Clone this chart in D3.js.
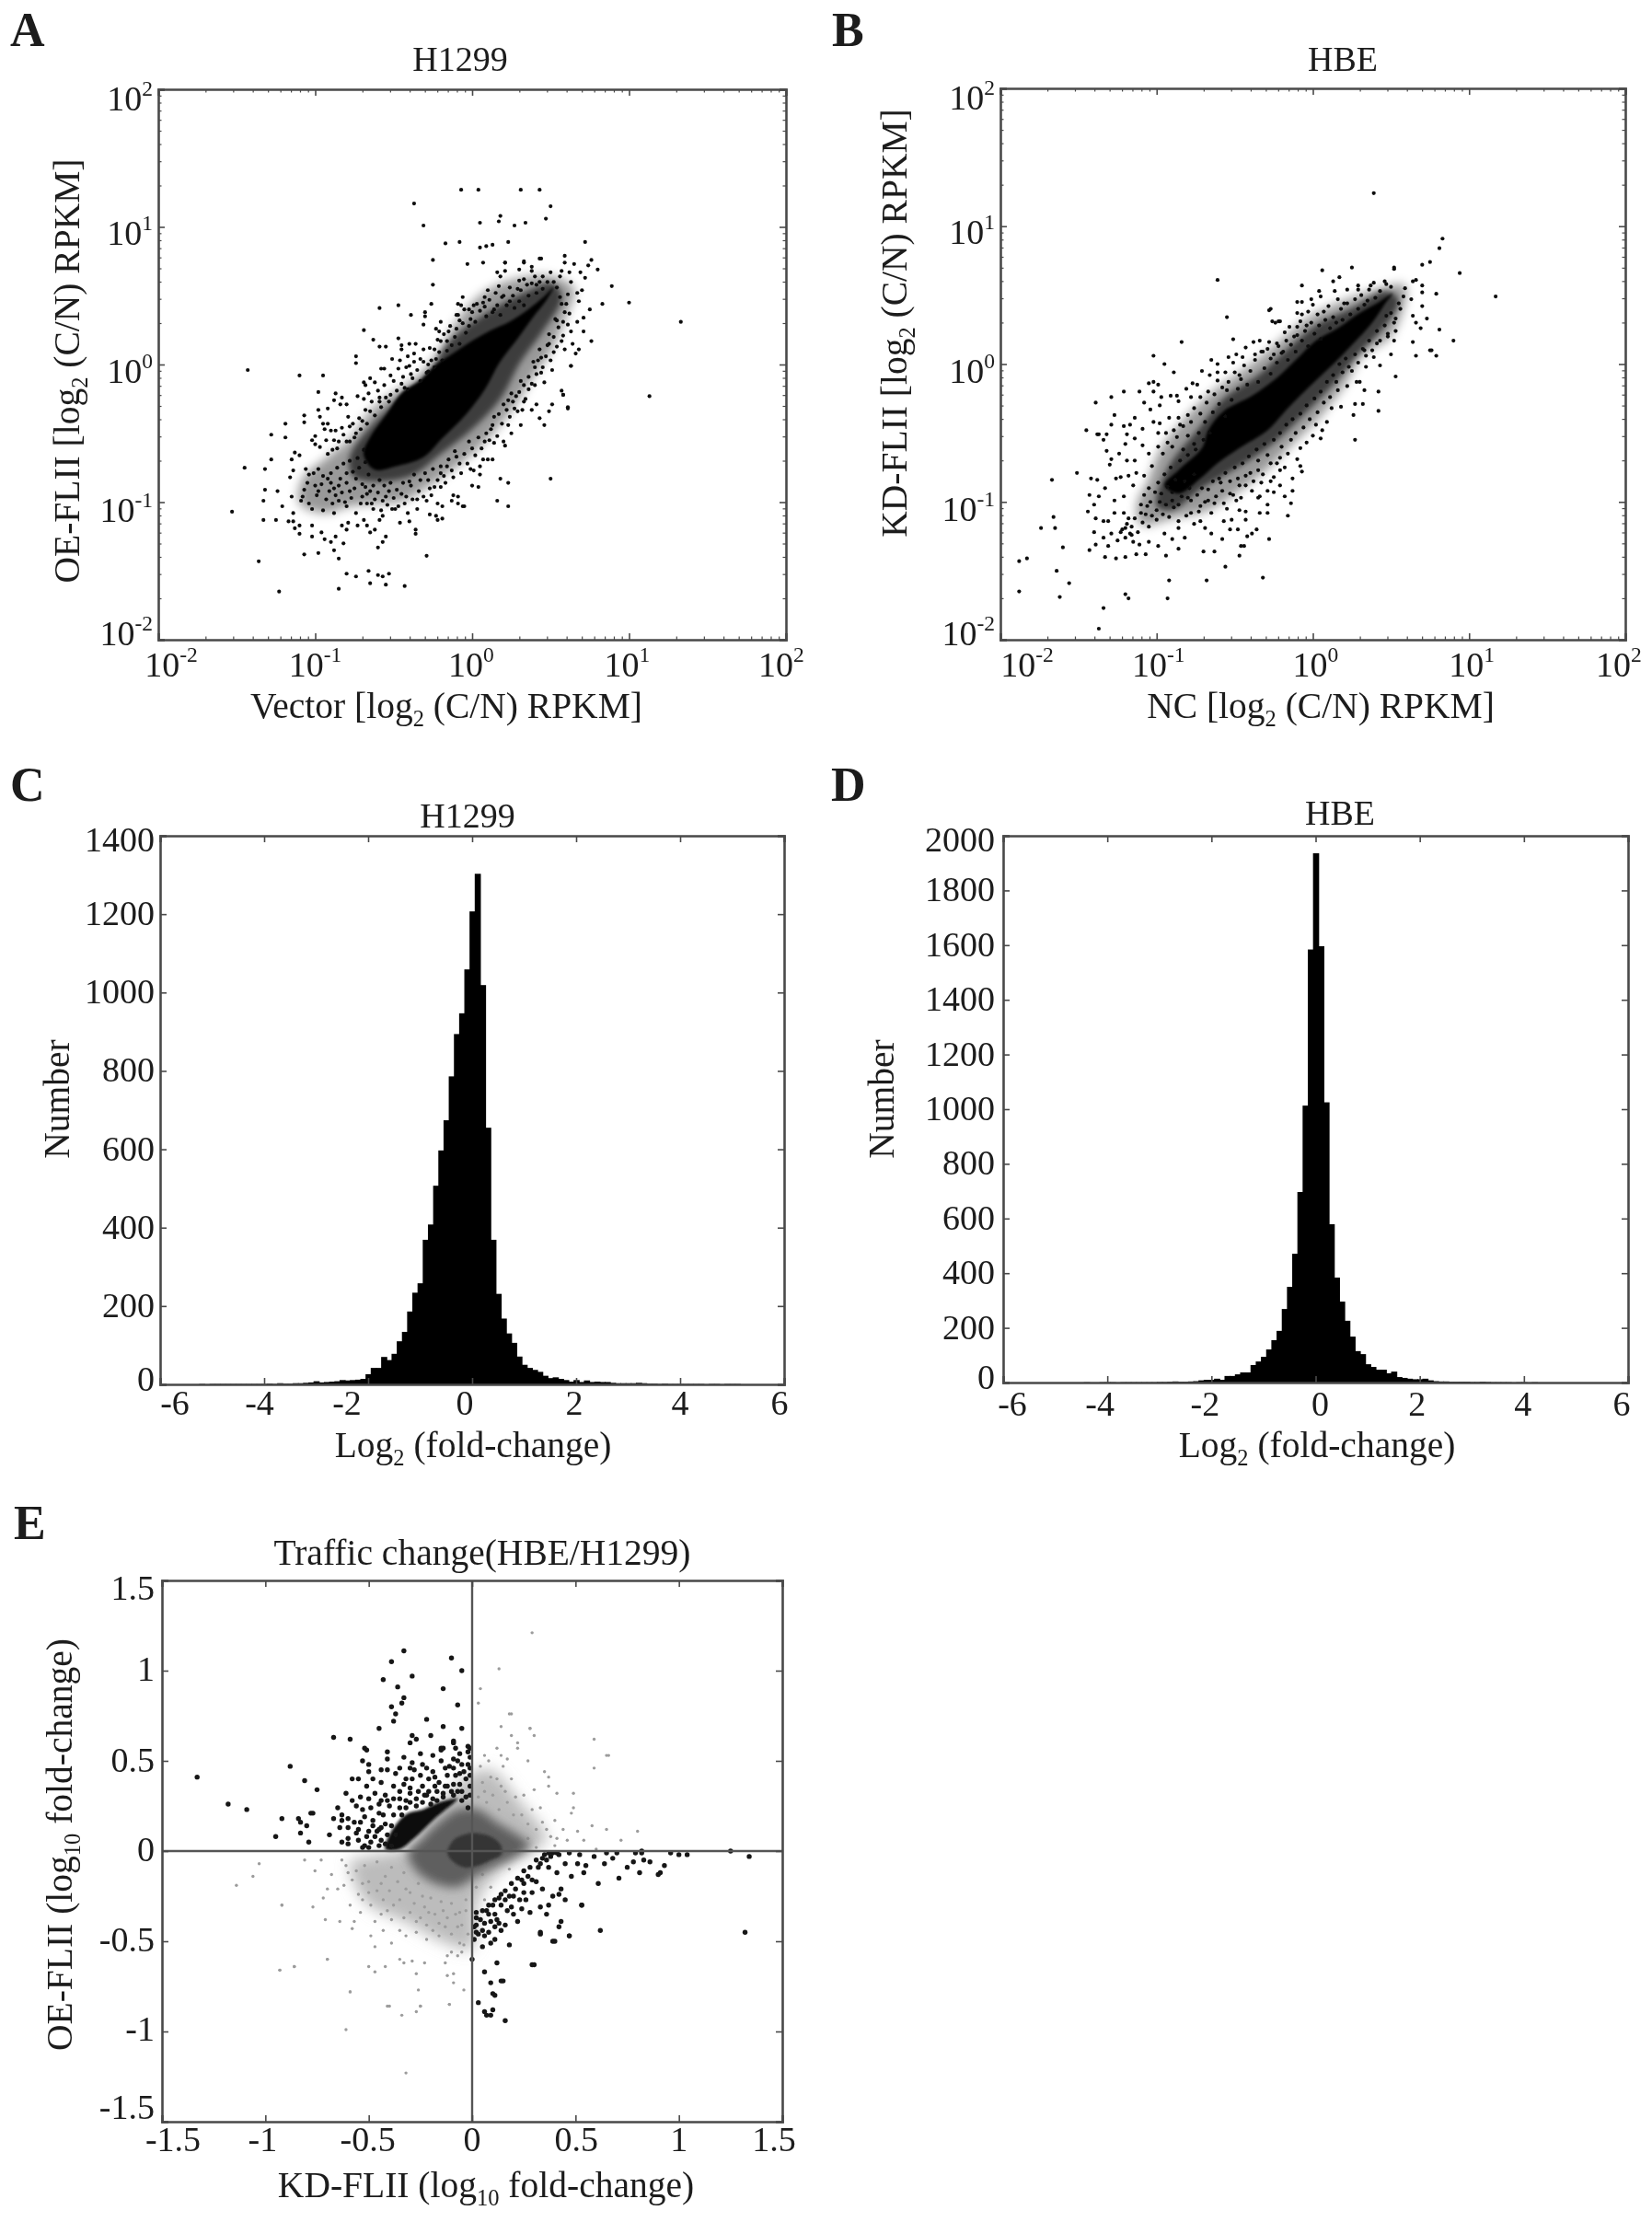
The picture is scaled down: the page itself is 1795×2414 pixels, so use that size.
<!DOCTYPE html>
<html>
<head>
<meta charset="utf-8">
<script src="https://cdn.jsdelivr.net/npm/d3@7"></script>
<style>
body { margin: 0; background: #fff; }
text { font-family: "Liberation Serif", serif; fill: #1c1c1c; white-space: pre; }
</style>
</head>
<body>
<div id="chart"></div>
<script>
// values. scatter A and B are log10 of the plotted value
const decades = [-2, -1, 0, 1, 2];
const histTicksX = [-6, -4, -2, 0, 2, 4, 6];
const histTicksC = [0, 200, 400, 600, 800, 1000, 1200, 1400];
const histTicksD = [0, 200, 400, 600, 800, 1000, 1200, 1400, 1600, 1800, 2000];
const trafficTicks = [-1.5, -1, -0.5, 0, 0.5, 1, 1.5];

// outlines of the areas too dense to read single points from
const aCore = [[.52,.564],[.451,.486],[.353,.397],[.236,.31],[.12,.25],[.002,.174],[-.116,.085],[-.233,-.004],[-.331,-.116],[-.448,-.205],[-.546,-.361],[-.644,-.517],[-.692,-.651],[-.624,-.763],[-.487,-.74],[-.311,-.674],[-.194,-.54],[-.038,-.361],[.08,-.183],[.177,.018],[.295,.196],[.393,.352],[.471,.464]];
const aBody = [[-.78,-.67],[-.63,-.43],[-.45,-.23],[-.27,-.05],[-.16,.15],[.06,.35],[.31,.51],[.51,.59],[.57,.49],[.45,.24],[.31,.02],[.18,-.25],[0,-.47],[-.2,-.65],[-.39,-.81],[-.63,-.85],[-.76,-.81]];
const aHalo = [[-1.1,-1.01],[-1.08,-.83],[-.92,-.67],[-.78,-.54],[-.65,-.34],[-.51,-.21],[-.35,-.09],[-.22,.08],[-.1,.31],[.06,.51],[.27,.62],[.51,.64],[.65,.55],[.59,.33],[.51,.11],[.39,-.09],[.29,-.27],[.2,-.41],[.04,-.61],[-.12,-.76],[-.27,-.88],[-.43,-.99],[-.59,-1.01],[-.78,-1.03],[-.94,-1.08]];
const aPoints = [[-.07,1.27],[.04,1.27],[.31,1.27],[.43,1.27],[.5,1.15],[-.37,1.17],[-.31,1.01],[.18,1.08],[.17,1.04],[.05,1.03],[.27,1.01],[.34,1.03],[.47,1.06],[-.08,.89],[-.17,.88],[.05,.85],[.09,.86],[.13,.87],[.23,.89],[.72,.89],[-.25,.76],[-.03,.73],[.21,.74],[.33,.74],[.43,.77],[.59,.79],[.76,.76],[.8,.69],[-.25,.58],[.89,.57],[1,.45],[.83,.44],[1.33,.31],[1.13,-.23],[-.59,.41],[-.47,.43],[-.69,.25],[-.63,.18],[-1.43,-.04],[-1.1,-.08],[-.95,-.08],[-.98,-.2],[.5,-.83],[.16,-.99],[.23,-1.03],[-.06,-1.03],[.18,-.83],[.23,-.86],[-1.53,-1.07],[-1.45,-.75],[-1.28,-.51],[-1.19,-.43],[-1.36,-1.43],[-1.23,-1.65],[-.85,-1.63],[-.8,-1.52],[-.74,-1.54],[-.66,-1.5],[-.65,-1.59],[-.6,-1.53],[-.57,-1.54],[-.53,-1.52],[-.55,-1.6],[-.43,-1.61],[-.29,-1.39],[-1.07,-1.38],[-.98,-1.37],[-.85,-1.41],[.61,-.31],[.58,-.22],[.63,-.01],[.76,.17],
[-1.19,-.53],[-1.07,-.37],[-1.07,-.42],[-.98,-.33],[-.92,-.32],[-.97,-.38],[-.95,-.43],[-.92,-.43],[-.94,-.47],[-.9,-.48],[-.87,-.48],[-.83,-.46],[-.79,-.38],[-.78,-.45],[-.87,-.21],[-.88,-.26],[-.83,-.24],[-.84,-.29],[-.8,-.29],[-.74,.06],[-.74,.01],[-.59,.13],[-.55,.13],[-.39,.36],[-.3,.38],[-.3,.35],[-.31,.29],[-.26,.44],[-.2,.31],[-.47,.19],[-.45,.14],[-.4,.15],[-.36,.15],[-.45,.11],[-.41,.06],[-.51,.04],[-.46,.03],[-.37,.02],[-.58,-.03],[-.56,-.03],[-.69,-.13],[-.68,-.15],[-.65,-.1],[-.62,-.13],[-.52,-.08],[-.73,-.23],[-.69,-.25],[-.59,-.24],[-.52,-.22],[-.66,-.21],
[-1.02,-.55],[-1,-.58],[-1.13,-.64],[-1.1,-.66],[-1.15,-.69],[-1.28,-.69],[-1.32,-.76],[-1.14,-.77],[-1.16,-.82],[-1.32,-.91],[-1.24,-.92],[-1.33,-.99],[-1.21,-1.03],[-1.15,-.96],[-1.33,-1.13],[-1.25,-1.13],[-1.17,-1.14],[-1.14,-1.08],[-1.14,-1.14],[-1.13,-1.19],[-1.1,-1.17],[-1.1,-1.23],[-1.02,-1.25],[-1.02,-1.17],[-.96,-1.22],[-.94,-1.27],[-.9,-1.29],[-.87,-1.25],[-.82,-1.3],[-.88,-1.35],[-.83,-1.17],[-.8,-1.2],[-.79,-1.15],[-.73,-1.17],[-.69,-1.13],[-.67,-1.17],[-.62,-1.2],[-.65,-1.22],[-.55,-1.25],[-.57,-1.29],[-.6,-1.33],[-.59,-1.13],[-.46,-1.15],[-.4,-1.14],[-.36,-1.2],[-.36,-1.23],[-.27,-1.09],[-.22,-1.13],[-.19,-1.12],[-.23,-1.1],
[-.13,-.99],[-.09,-1.01],[-.05,-1.03],[-.12,-.95],[-.09,-.96],[-.19,-1.03],[-.22,-1.01],[-.29,-.99],[-.35,-.98],[-.24,-.89],[-.2,-.89],[-.17,-.86],[-.12,-.82],[-.07,-.79],[0,-.88],[.04,-.89],[.05,-.8],[.05,-.74],[-.01,-.76],[.01,-.77],[.07,-.69],[.1,-.69],[.13,-.69],[.14,-.57],[.2,-.56],[.21,-.59],
[.31,-.44],[.25,-.5],[.23,-.44],[.46,-.44],[.43,-.39],[.49,-.34],[.51,-.29],[.61,-.32],[.38,-.33],[.32,-.33],[.29,-.34],[.41,-.29],[.34,-.25],[.28,-.23],[.23,-.26],[.57,-.19],[.58,-.22],[.46,-.13],[.4,-.15],[.36,-.18],[.31,-.12],[.41,-.07],[.51,-.04],[.63,-.01],[.45,-.02],[.44,.05],[.52,.09],[.59,.11],[.66,.08],[.68,.11],[.64,.15],[.71,.24],[.67,.31],[.71,.34],[.75,.4],[.68,.46],[.7,.54],[.67,.52],[.63,.6],[.72,.63],[.74,.72],[.65,.73],[.59,.74],[.57,.68],[.56,.64],[.62,.67],[.69,.67],[.61,.29],[.59,.38],[.57,.44],[.54,.32],[.57,.17],[.49,.22],[.61,.51],[.56,.49],
[.21,.74],[.07,.74],[.16,.67],[.21,.68],[.18,.64],[.3,.69],[.33,.75],[.38,.71],[.44,.77],[.38,.68],[.3,.61],[.33,.62],[.4,.64],[.45,.64],[.17,.57],[.1,.54],[.29,.55],[.35,.58],[.41,.58],[-.06,.49],[-.09,.44],[-.07,.43],[-.02,.4],[.08,.49],[.07,.45],[.19,.49],[.24,.46],[-.09,.36],[.01,.43],[.14,.4],[-.23,.26],[-.21,.24],[-.16,.17],[-.08,.32],[-.1,.26],[-.01,.33],[-.24,.11],[-.31,.11],[-.2,.17],[-.33,.04],[-.42,-.02],[-.39,-.07],[-.28,0],[-.23,.04],[-.15,.24],[-.45,-.14],[-.41,-.18],[-.28,-.05],
[-1.08,-.96],[-1.04,-1.01],[-1.02,-1.05],[-.98,-.92],[-.92,-.83],[-.88,-.9],[-.85,-.99],[-.78,-.92],[-.7,-.96],[-.65,-.92],[-.57,-.99],[-.49,-1.05],[-.43,-1.01],[-.41,-1.08],[-.35,-1.05],[-.27,-.9],[-.3,-.79],[-.2,-.79],[-.16,-.74],[-.1,-.67],[0,-.61],[.08,-.56],[.12,-.47],[.14,-.38],[.2,-.29],[.25,-.21],[.39,.02],[.43,.11],[.49,.15],[.53,.33],[-.92,-.65],[-.86,-.61],[-.78,-.56],[-.74,-.5],[-.7,-.41],[-.65,-.34],[-.59,-.27],[-.98,-.76],[-.95,-.81],[-1.06,-.76],[-1.04,-.8],[-1.07,-.91],[-1.09,-.99],[-1,-.88],[-.91,-.92],[-.89,-1.01],[-.95,-1.06],[-.88,-1.08],[-.8,-1.03],[-.74,-1.08],[-.67,-1.01],[-.63,-1.05],[-.57,-1.1],[-.51,-1.05],[-.84,-.83],[-.8,-.79],[-.74,-.83],[-.68,-.89],[-.53,-.92],[-.45,-.94],[-.39,-.88],
[-1.05,-.86],[-1.01,-.79],[-.99,-.95],[-.96,-.87],[-.93,-.98],[-.9,-.79],[-.9,-.86],[-.87,-.95],[-.86,-.75],[-.85,-.88],[-.83,-.93],[-.82,-.72],[-.81,-1],[-.8,-.86],[-.78,-.7],[-.77,-.97],[-.76,-.78],[-.75,-.9],[-.73,-.68],[-.72,-.75],[-.71,-1.01],[-.7,-.87],[-.69,-.62],[-.68,-.71],[-.67,-.94],[-.66,-.8],[-.64,-1.01],[-.63,-.88],[-.62,-.98],[-.6,-.93],[-.59,-.84],[-.58,-1.06],[-.56,-.88],[-.55,-.96],[-.54,-1.02],[-.52,-.86],[-.5,-.97],[-.48,-.91],[-.47,-1.03],[-.44,-.86],[-.42,-.96],[-.4,-.85],[-.38,-.98],[-.37,-.8],[-.34,-.92],[-.33,-.84],[-.31,-.96],[-.28,-.84],[-.26,-.95],[-.25,-.76],[-.22,-.84],[-.2,-.74],[-.18,-.81],[-.15,-.69],[-.13,-.77],[-.11,-.63],[-.08,-.72],[-.05,-.65],[-.03,-.72],[-.02,-.56],[.02,-.66],[.04,-.53],[.06,-.61],[.09,-.5],[.11,-.55],[.13,-.44],[.16,-.52],[.17,-.36],[.19,-.43],[.22,-.33],[.24,-.38],[.26,-.27],[.27,-.32],[.3,-.2],[.33,-.27],[.33,-.15],[.36,-.09],[.38,-.14],[.4,-.02],[.42,.03],[.44,-.06],[.47,.06],[.48,.14],[.5,.03],[.52,.2],[.54,.13],[.55,.27],[.58,.21],[.58,.31],[.6,.44],[.62,.37],[.63,.24],
[-1,-.52],[-.97,-.6],[-.93,-.55],[-.89,-.62],[-.88,-.55],[-.85,-.56],[-.82,-.51],[-.8,-.56],[-.76,-.43],[-.75,-.53],[-.72,-.39],[-.71,-.47],[-.68,-.33],[-.67,-.43],[-.64,-.27],[-.62,-.37],[-.6,-.19],[-.58,-.31],[-.56,-.15],[-.55,-.24],[-.53,-.27],[-.5,-.12],[-.48,-.19],[-.47,-.03],[-.44,-.09],[-.43,-.17],[-.4,-.01],[-.38,-.1],[-.37,.08],[-.35,-.04],[-.33,-.12],[-.31,.02],[-.29,-.06],[-.27,.12],[-.26,.03],[-.24,-.02],[-.22,.18],[-.21,.09],[-.19,.03],[-.18,.22],[-.16,.1],[-.14,.28],[-.13,.14],[-.11,.2],[-.1,.36],[-.08,.15],[-.06,.3],[-.05,.4],[-.04,.23],[-.02,.28],[0,.38],[.02,.31],[.03,.44],[.05,.39],[.08,.42],[.09,.35],[.11,.47],[.13,.38],[.15,.52],[.16,.43],[.18,.36],[.2,.5],[.22,.43],[.24,.56],[.26,.5],[.27,.41],[.3,.46],[.31,.54],[.33,.43],[.36,.5],[.38,.59],[.41,.52],[.43,.6],[.45,.55],[.48,.6],[.5,.67],[.52,.6],[.54,.56]];

const bCore = [[.51,.51],[.41,.44],[.3,.37],[.16,.26],[.02,.17],[-.1,.04],[-.23,-.1],[-.39,-.23],[-.57,-.34],[-.67,-.48],[-.71,-.61],[-.86,-.77],[-.95,-.88],[-.86,-.94],[-.72,-.83],[-.61,-.72],[-.47,-.61],[-.29,-.48],[-.16,-.32],[0,-.14],[.14,.01],[.26,.15],[.38,.3],[.47,.45]];
const bBody = [[-1,-1.03],[-.92,-.74],[-.74,-.48],[-.57,-.25],[-.35,-.08],[-.17,.1],[.02,.28],[.26,.41],[.47,.53],[.55,.46],[.45,.26],[.3,.08],[.12,-.16],[-.08,-.39],[-.27,-.59],[-.51,-.77],[-.71,-.9],[-.9,-1.06]];
const bHalo = [[-1.12,-1.14],[-1.12,-.99],[-1.06,-.86],[-.98,-.63],[-.8,-.37],[-.63,-.19],[-.43,-.03],[-.23,.15],[-.04,.33],[.2,.46],[.43,.55],[.59,.57],[.57,.37],[.49,.19],[.32,.06],[.2,-.16],[.04,-.39],[-.12,-.57],[-.27,-.74],[-.47,-.92],[-.67,-1.06],[-.9,-1.12],[-1.08,-1.17]];
const bPoints = [[.39,1.24],[-.61,.61],[.06,.68],[.25,.7],[.52,.7],[.83,.91],[.81,.84],[.7,.72],[.75,.74],[.94,.66],[1.17,.49],[.79,.51],[.9,.17],[.81,.25],[.69,.26],[.75,.1],[.79,.06],[.53,-.09],[-.55,.34],[-.84,.16],[-.51,.18],[-.28,.39],[-.22,.31],[-1.02,.06],[-.95,0],[-.89,-.06],[-1.39,-.28],[-1.29,-.24],[-1.21,-.2],[-1.45,-.48],[-1.37,-.51],[-1.67,-.84],[-1.51,-.79],[-1.74,-1.19],[-1.66,-1.11],[-1.65,-1.19],[-1.6,-1.33],[-1.88,-1.43],[-1.83,-1.41],[-1.88,-1.65],[-1.64,-1.5],[-1.56,-1.59],[-1.62,-1.69],[-1.34,-1.77],[-1.37,-1.92],[-1.2,-1.67],[-1.18,-1.7],[-.93,-1.7],[-.68,-1.57],[-.32,-1.55],[-.92,-1.57],[-.56,-1.47],[-.28,-1.27],[.27,-.55],[.42,-.34],[.42,-.2],[-.14,-1.01],[-.16,-1.1],[-.13,-.92],
[-1.11,-.2],[-1.05,-.14],[-1.02,-.13],[-.99,-.15],[-1.02,-.2],[-1.08,-.28],[-1.04,-.33],[-.97,-.24],[-.98,-.3],[-.91,-.23],[-.87,-.23],[-.86,-.27],[-.71,-.05],[-.65,.03],[-.61,0],[-.54,.05],[-.66,-.08],[-.61,-.06],[-.56,-.06],[-.51,.01],[-.49,.07],[-.45,.05],[-.43,.12],[-.38,.16],[-.34,.17],[-.37,.07],[-.47,-.08],[-.61,-.12],[-.81,-.18],[-.77,-.14],[-.74,-.15],[-.67,-.2],[-.55,-.19],[-.78,-.24],[-.72,-.24],[-.76,-.32],[-.86,-.39],[-.92,-.39],[-.98,-.43],[-1.02,-.42],[-1.09,-.47],[-1.14,-.39],[-1.21,-.45],[-1.17,-.44],[-1.27,-.37],[-1.29,-.44],[-1.38,-.51],[-1.32,-.51],[-1.34,-.55],[-1.19,-.51],[-1.2,-.58],[-1.14,-.54],[-.99,-.5],[-.89,-.48],[-.83,-.45],[-.8,-.37],
[-1.32,-.63],[-1.29,-.69],[-1.3,-.73],[-1.24,-.65],[-1.19,-.7],[-1.14,-.7],[-1.09,-.59],[-1.05,-.65],[-1.03,-.74],[-.99,-.6],[-.93,-.57],[-.96,-.65],[-1.42,-.83],[-1.38,-.84],[-1.33,-.9],[-1.26,-.83],[-1.23,-.82],[-1.18,-.81],[-1.13,-.79],[-1.15,-.88],[-1.08,-.81],[-1.43,-.95],[-1.37,-.96],[-1.27,-.99],[-1.21,-.96],[-1.4,-1.02],[-1.44,-1.07],[-1.27,-1.08],[-1.39,-1.12],[-1.34,-1.14],[-1.31,-1.14],[-1.21,-1.08],[-1.18,-1.12],[-1.2,-1.19],[-1.16,-1.24],[-1.23,-1.22],[-1.29,-1.23],[-1.4,-1.22],[-1.34,-1.26],[-1.25,-1.28],[-1.31,-1.32],[-1.39,-1.31],[-1.43,-1.35],[-1.33,-1.4],[-1.26,-1.41],[-1.2,-1.4],[-1.13,-1.38],[-1.07,-1.38],[-1.11,-1.31],[-1.05,-1.29],[-.99,-1.32],[-.94,-1.39],[-.86,-1.34],[-.7,-1.36],[-.63,-1.36],[-.46,-1.32],[-.44,-1.32],[-.47,-1.39],[-.36,-1.2],[-.39,-1.23],[-.42,-1.25],[-.48,-1.2],[-.53,-1.2],[-.58,-1.27],[-.65,-1.23],[-.82,-1.26],[-.95,-1.23],[-.9,-1.27],[-.86,-1.19],[-.76,-1.16],[-.72,-1.14],[-.69,-1.19],[-.57,-1.14],[-.52,-1.13],[-.43,-1.13],[-.34,-1.08],[-.29,-1.08],
[-.18,-.96],[-.29,-1.02],[-.35,-.97],[-.43,-1.07],[-.47,-1.06],[-.25,-.93],[-.21,-.88],[-.29,-.92],[-.34,-.96],[-.13,-.83],[-.07,-.78],[-.08,-.74],[-.1,-.69],[-.21,-.77],[-.25,-.82],[-.16,-.65],[-.08,-.61],[-.04,-.57],[.05,-.54],[0,-.52],[.06,-.48],[.09,-.42],[.02,-.44],[.12,-.32],[.18,-.31],[.26,-.37],[.27,-.29],[.32,-.29],[.33,-.19],[.28,-.13],[.3,-.13],[.22,-.16],[.16,-.19],[.25,-.05],[.34,-.02],[.43,-.01],[.39,.05],[.5,.07],[.64,.16],[.66,.06],[.76,.1],[.52,.17],[.53,.24],[.48,.22],[.41,.15],[.33,.1],[.64,.35],[.66,.3],[.73,.33],[.7,.42],[.63,.47],[.58,.49],[.64,.6],[.7,.57],[.7,.52],[.66,.61],[.59,.55],[.55,.44],[.52,.3],[.47,.35],[.52,.69],
[.17,.63],[.13,.6],[-.07,.57],[.04,.53],[.05,.49],[.14,.53],[.22,.54],[.29,.57],[.29,.54],[.39,.59],[.47,.58],[.36,.54],[-.1,.45],[-.07,.45],[-.1,.37],[-.01,.47],[0,.43],[-.27,.4],[-.26,.31],[-.24,.3],[-.21,.31],[-.07,.36],[-.03,.38],[.07,.38],[.16,.47],[.2,.44],[-.15,.27],[-.1,.27],[-.04,.28],[.04,.28],[-.17,.17],[-.23,.15],[-.28,.16],[-.2,.08],[-.27,.04],[-.32,.09],[-.1,.21],
[-.59,-.86],[-.53,-.94],[-.63,-1.01],[-.67,-.99],[-.78,-1.08],[-.86,-1.14],[-1.06,-1.03],[-1.1,-1.08],[-1,-1.06],[-.9,-.99],[-.8,-.97],[-.72,-1.03],[-.57,-1.01],[-.49,-.99],[-.39,-.92],[-.33,-.86],[-.47,-.88],[-.27,-.72],[-.21,-.68],[-.35,-.77],[-.43,-.81],
[-1.22,-1.2],[-1.2,-1.26],[-1.19,-1.16],[-1.17,-1.23],[-1.16,-1.18],[-1.15,-1.29],[-1.14,-1.12],[-1.12,-1.22],[-1.1,-1.02],[-1.09,-1.15],[-1.08,-.95],[-1.07,-1.09],[-1.05,-1.18],[-1.05,-.9],[-1.04,-1],[-1.03,-1.1],[-1.01,-.93],[-1,-1.13],[-.99,-.86],[-.98,-1],[-.97,-.94],[-.96,-1.09],[-.95,-.8],[-.94,-1.02],[-.93,-.89],[-.92,-1.11],[-.91,-.75],[-.9,-.93],[-.89,-1.04],[-.88,-.84],[-.86,-1.02],[-.85,-.7],[-.84,-.96],[-.82,-.85],[-.81,-1.1],[-.8,-.66],[-.79,-.9],[-.78,-.99],[-.76,-.8],[-.75,-.62],[-.74,-.95],[-.73,-1.07],[-.71,-.9],[-.7,-.55],[-.69,-1],[-.67,-.91],[-.66,-.5],[-.65,-1.08],[-.64,-.85],[-.62,-.96],[-.6,-.83],[-.58,-.92],[-.56,-.79],[-.55,-1.05],[-.53,-.85],[-.51,-.95],[-.5,-.75],[-.48,-.83],[-.46,-.97],[-.45,-.72],[-.43,-.88],[-.41,-.67],[-.4,-.79],[-.38,-.85],[-.36,-.62],[-.35,-.7],[-.32,-.8],[-.31,-.58],[-.29,-.66],[-.27,-.85],[-.25,-.55],[-.23,-.72],[-.21,-.5],[-.2,-.6],[-.18,-.75],[-.17,-.44],[-.14,-.55],[-.13,-.4],[-.11,-.5],[-.08,-.36],[-.06,-.46],[-.04,-.3],[-.02,-.4],[.01,-.25],[.03,-.35],[.05,-.2],[.07,-.28],[.09,-.13],[.11,-.24],[.13,-.08],[.15,-.13],[.17,0],[.19,-.06],[.21,.04],[.23,-.02],[.27,.07],[.29,.01],[.32,.11],[.34,.06],[.36,.17],[.38,.1],[.41,.24],[.43,.17],[.46,.28],[.48,.2],[.5,.37],[.53,.33],[.56,.4],
[-.94,-.5],[-.9,-.6],[-.87,-.53],[-.85,-.44],[-.83,-.62],[-.8,-.52],[-.78,-.42],[-.76,-.58],[-.73,-.5],[-.72,-.36],[-.69,-.42],[-.68,-.28],[-.64,-.35],[-.63,-.22],[-.6,-.29],[-.58,-.17],[-.56,-.38],[-.54,-.13],[-.52,-.26],[-.5,-.06],[-.48,-.18],[-.46,-.11],[-.44,-.01],[-.42,-.15],[-.4,-.05],[-.37,.03],[-.35,-.13],[-.33,.09],[-.31,-.03],[-.29,.11],[-.27,-.07],[-.25,.07],[-.23,.01],[-.22,.13],[-.19,.09],[-.18,.23],[-.16,.03],[-.14,.14],[-.12,.2],[-.11,.09],[-.08,.31],[-.07,.17],[-.05,.24],[-.03,.13],[-.01,.3],[.01,.22],[.03,.36],[.05,.18],[.08,.32],[.1,.42],[.11,.26],[.13,.34],[.15,.3],[.18,.4],[.19,.32],[.22,.44],[.24,.36],[.27,.47],[.29,.4],[.31,.5],[.33,.43],[.35,.46],[.37,.57],[.4,.48],[.43,.53],[.46,.6],[.5,.56]];

// histogram counts, one per 0.1 wide bin, centres from -6.0 to 6.0
const histC = [0,0,0,0,0,0,0,0,1,0, 1,1,1,1,1,1,1,1,1,1, 1,2,1,3,2,2,3,3,4,5, 8,5,6,7,8,11,10,11,12,14,
  26,42,42,70,62,78,110,134,186,234, 258,369,408,507,597,674,786,894,947,1059,
  1207,1303,1019,655,369,231,168,130,106,71, 50,42,37,32,22,16,18,14,11,7,
  11,6,10,6,7,6,6,4,3,3, 3,3,4,3,2,2,1,2,1,1, 1,1,1,1,1,0,1,1,0,1, 1,1,0,0,0,0,0,0,0,0,0];
const histD = [0,0,0,0,0,0,0,0,0,0, 0,0,0,0,0,0,1,0,0,1, 1,1,0,1,1,1,1,1,1,1, 2,2,3,4,3,3,4,5,8,10,
  10,14,10,24,24,30,37,37,64,77, 94,121,155,189,269,350,471,697,1013,1584,
  1936,1596,1025,579,384,296,226,168,115,104, 67,57,47,47,34,40,20,17,14,12,
  12,14,8,5,4,4,3,3,3,3, 2,2,3,2,1,1,1,1,0,1, 1,0,1,0,0,0,0,0,0,0, 0,0,0,0,0,0,0,0,0,0,0];

const eLight = [[-.59,-.06],[-.5,-.03],[-.32,.02],[-.18,.24],[0,.43],[.09,.45],[.24,.26],[.36,.07],[.28,-.01],[.15,-.1],[.03,-.27],[0,-.54],[-.13,-.51],[-.31,-.4],[-.5,-.3],[-.56,-.2]];
const eMid = [[-.31,-.01],[-.25,.06],[-.18,.14],[-.07,.23],[.03,.23],[.12,.16],[.22,.09],[.28,.03],[.21,-.03],[.12,-.08],[.03,-.13],[-.07,-.2],[-.18,-.18],[-.27,-.11]];
const eCore = [[-.12,-.01],[-.09,.06],[-.04,.09],[.02,.1],[.09,.08],[.14,.03],[.14,-.02],[.09,-.05],[.03,-.08],[-.04,-.09],[-.09,-.06]];
const eWedge = [[-.07,.29],[-.18,.18],[-.28,.07],[-.35,.01],[-.42,.01],[-.4,.09],[-.36,.16],[-.31,.21],[-.24,.23],[-.16,.27],[-.09,.29]];
const eGray = [[.19,.76],[.14,.69],[.28,.68],[.3,.64],[.19,.64],[.22,.6],[.22,.57],[.59,.62],[.65,.53],[.59,.46],[.06,.53],[.12,.57],[.14,.53],[.17,.51],[.27,.5],[.15,.47],[.35,.44],[.37,.41],[.37,.36],[.41,.32],[.49,.32],[.49,.24],[.48,.21],[.33,.24],[.3,.34],[.25,.31],[.19,.4],[.12,.4],[.06,.33],[.16,.33],[.4,.17],[.36,.12],[.58,.14],[.65,.12],[.8,.11],[.6,.01],[.72,.06],[.51,.11],[.54,.06],[.41,.07],[.46,.06],[.29,1.21],[.13,1.01],[.04,.9],[.03,.82],[.18,.76],[.28,.68],[.66,.53],
[-.81,-.05],[-.73,-.05],[-.76,-.11],[-.68,-.13],[-.7,-.21],[-.65,-.21],[-.72,-.26],[-.92,-.3],[-.77,-.31],[-.71,-.38],[-.64,-.39],[-.59,-.3],[-.58,-.43],[-.57,-.39],[-.7,-.6],[-.86,-.64],[-.93,-.66],[-.59,-.78],[-.47,-.53],[-.39,-.51],[-.5,-.64],[-.42,-.64],[-.47,-.67],[-.41,-.86],[-.35,-.6],[-.33,-.62],[-.29,-.61],[-.27,-.68],[-.23,-.62],[-.26,-.77],[-.25,-.86],[-.27,-.89],[-.13,-.62],[-.09,-.68],[-.09,-.73],[-.12,-.69],[-.04,-.77],[-.11,-.85],
[-.56,-.11],[-.52,-.08],[-.53,-.18],[-.5,-.23],[-.49,-.3],[-.44,-.35],[-.43,-.27],[-.38,-.3],[-.35,-.44],[-.33,-.37],[-.3,-.34],[-.25,-.37],[-.21,-.34],[-.16,-.4],[-.12,-.37],[-.07,-.42],[-.06,-.51],[-.1,-.56],[-.16,-.47],[-.22,-.49],[-.27,-.45],[-.32,-.47],[-.43,-.44],[-.49,-.47],[-.53,-.27],[-.58,-.16],[-.63,-.05],[-.61,-.08],[-.44,-.18],[-.4,-.22],[-.3,-.23],[-.24,-.25],[-.15,-.28],[-.06,-.34],[-.03,-.27],[-.04,-.52],[-.05,-.56],[-.07,-.58],[-.12,-.58],
[-1.14,-.19],[-1.06,-.14],[-1.03,-.07],[-.92,-.3],[-.93,-.66],[-.86,-.64],[-.7,-.6],[-.59,-.78],[-.61,-.99],[-.4,-.86],[-.34,-.91],[-.25,-.86],[-.11,-.85],[-.32,-1.23],[.21,.02],[.27,.07],[.31,.02],[.18,-.1],[.09,-.2],[.06,-.27],[.02,-.2],[.05,-.13],
[-.46,-.06],[-.42,-.14],[-.39,-.09],[-.36,-.17],[-.35,-.27],[-.33,-.12],[-.32,-.21],[-.28,-.29],[-.26,-.18],[-.27,-.39],[-.23,-.31],[-.22,-.41],[-.2,-.26],[-.19,-.44],[-.18,-.35],[-.14,-.33],[-.13,-.42],[-.1,-.29],[-.1,-.46],[-.08,-.35],[-.05,-.41],[-.03,-.33],[-.02,-.46],[-.41,-.33],[-.39,-.38],[-.46,-.22],[-.47,-.39],[-.5,-.17],[-.55,-.24],[-.54,-.34],[-.6,-.12],[-.62,-.19],[.03,.3],[.05,.38],[.07,.27],[.09,.41],[.1,.31],[.13,.23],[.14,.36],[.17,.27],[.2,.2],[.21,.3],[.24,.2],[.27,.15],[.29,.23],[.31,.12],[.34,.16],[.38,.08],[.4,.03],[.44,.12],[.04,.47],[.08,.5]];
const eBlack = [[-1.33,.41],[-1.18,.26],[-1.09,.23],[-.95,.08],[-.92,.18],[-.88,.47],[-.81,.39],[-.75,.34],[-.84,.18],[-.83,.16],[-.77,.21],[-.8,.14],[-.83,.1],[-.79,.05],[-.67,.63],[-.59,.62],[-.33,1.11],[-.39,1.05],[-.43,.95],[-.29,.97],[-.36,.91],[-.1,1.07],[-.05,1],[-.14,.9],[-.07,.81],[-.33,.85],[-.34,.82],[-.39,.8],[-.37,.76],[-.38,.72],[-.45,.68],[-.22,.73],[-.14,.69],[-.05,.68],[-.29,.64],[-.2,.64],[-.52,.57],[-.41,.55],[-.3,.6],[-.09,.6],[-.15,.57],[-.02,.58],
[-.27,.62],[-.15,.56],[-.14,.57],[-.09,.61],[-.08,.57],[-.01,.57],[-.51,.56],[-.41,.51],[-.53,.5],[-.5,.48],[-.33,.52],[-.25,.54],[-.19,.53],[-.09,.51],[-.06,.54],[-.02,.55],[-.5,.44],[-.44,.45],[-.41,.45],[-.35,.46],[-.3,.46],[-.29,.49],[-.22,.46],[-.13,.46],[-.09,.46],[-.05,.48],[-.01,.52],[-.01,.46],[-.58,.4],[-.55,.4],[-.48,.4],[-.44,.38],[-.32,.4],[-.29,.4],[-.25,.42],[-.18,.41],[-.12,.42],[-.06,.43],[-.01,.42],[-.61,.32],[-.38,.36],[-.35,.33],[-.3,.35],[-.24,.36],[-.21,.33],[-.18,.36],[-.13,.36],[-.09,.37],[-.05,.33],[-.01,.36],[-.5,.29],[-.44,.28],[-.42,.31],[-.38,.29],[-.32,.28],[-.27,.29],[-.22,.31],[-.19,.29],[-.14,.3],[-.09,.31],[-.58,.28],[-.56,.25],[-.65,.24],[-.49,.24],[-.4,.25],[-.35,.24],[-.3,.27],[-.24,.27],[-.17,.28],[-.78,.21],[-.67,.18],[-.63,.2],[-.63,.17],[-.64,.13],[-.69,.09],[-.6,.18],[-.6,.13],[-.6,.07],[-.63,.05],[-.6,.04],[-.53,.23],[-.52,.19],[-.57,.16],[-.55,.12],[-.48,.17],[-.45,.21],[-.42,.15],[-.5,.11],[-.46,.11],[-.41,.09],[-.55,.06],[-.52,.03],[-.49,.05],[-.45,.03],[-.44,.06],[-.53,.02],[-.5,.02],
[-.45,.12],[-.43,.2],[-.41,.28],[-.39,.14],[-.38,.2],[-.37,.43],[-.35,.29],[-.34,.2],[-.33,.37],[-.32,.24],[-.3,.32],[-.28,.45],[-.27,.25],[-.26,.33],[-.24,.48],[-.23,.31],[-.21,.4],[-.2,.26],[-.19,.44],[-.17,.33],[-.16,.38],[-.15,.5],[-.14,.32],[-.12,.36],[-.11,.47],[-.1,.33],[-.08,.42],[-.07,.5],[-.06,.37],[-.04,.44],[-.03,.3],[-.03,.4],[-.02,.48],[-.01,.31],[-.02,.24],[-.05,.28],[-.07,.33],[-.37,.09],[-.39,.03],[-.42,.04],[-.44,.13],[-.47,.08],[-.48,.14],[-.51,.08],[-.54,.16],[-.56,.1],[-.45,.26],[-.47,.32],[-.51,.36],[-.54,.3],
[.28,-.09],[.25,-.11],[.22,-.15],[.19,-.18],[.16,-.22],[.14,-.24],[.11,-.27],[.08,-.3],[.05,-.33],[.02,-.34],[.02,-.37],[.01,-.42],[.01,-.49],[.02,-.45],[.05,-.44],[.08,-.45],[.11,-.42],[.14,-.44],[.16,-.41],[.22,-.39],[.08,-.35],[.11,-.35],[.14,-.3],[.19,-.31],[.24,-.32],[.28,-.34],[.33,-.31],[.36,-.35],[.2,-.25],[.25,-.23],[.29,-.23],[.34,-.21],[.31,-.17],[.25,-.18],[.29,-.16],[.33,-.07],[.36,-.05],[.31,-.05],[.37,-.09],[.41,-.12],[.45,-.07],[.48,-.14],[.43,-.21],[.42,-.24],[.45,-.27],[.39,-.25],[.53,-.3],[.37,-.3],[.61,-.18],[.71,-.15],[.81,-.12],[.9,-.13],[.86,-.06],[.83,-.05],[.78,-.06],[.75,-.09],[.64,-.07],[.54,-.12],[.55,-.08],[.51,-.07],[.59,-.03],[.65,-.01],[.68,-.04],[.7,-.01],[.47,-.01],[.52,-.02],[.39,-.01],[.37,-.01],[.41,-.01],[.79,-.01],[.82,0],[.62,-.44],[.47,-.47],[.39,-.5],[.33,-.46],[.42,-.42],[.43,-.39],[.18,-.52],[.09,-.51],[.11,-.49],[.05,-.53],[0,-.6],[.12,-.62],[.3,-.63],[.06,-.67],[.09,-.73],[.14,-.72],[.1,-.79],[.03,-.84],[.06,-.89],[.1,-.88],[.09,-.91],[.16,-.94],[.07,-.91],[1.32,-.45],[1.34,-.03],[1.25,0],[1.04,-.02],[1,-.02],[.96,-.01],[.91,-.12],[.93,-.08],[.82,-.01],[.53,-.3],[.4,-.5],[.47,-.47],[.33,-.45],[.29,-.63],[.15,-.72],[.11,-.8],
[.04,-.38],[.06,-.4],[.03,-.46],[.06,-.47],[.09,-.39],[.12,-.38],[.07,-.33],[.1,-.3],[.13,-.26],[.16,-.27],[.17,-.33],[.2,-.35],[.23,-.27],[.26,-.27],[.27,-.14],[.24,-.16],[.21,-.21],[.18,-.25],[.34,-.04],[.32,-.09],[.35,-.02],[.38,-.03],[.42,-.02],[.02,-.41],[.13,-.4]];

const svg = d3.select("#chart").append("svg")
  .attr("width", 1795).attr("height", 2414).attr("viewBox", "0 0 1795 2414");
const defs = svg.append("defs");
function addBlur(id, amount) {
  defs.append("filter").attr("id", id)
    .attr("filterUnits", "userSpaceOnUse")
    .attr("x", 0).attr("y", 0).attr("width", 1795).attr("height", 2414)
    .append("feGaussianBlur").attr("stdDeviation", amount);
}
addBlur("soft", 0.55);
addBlur("blur2", 1.6);
addBlur("blur3", 3);
addBlur("blur5", 5.5);
addBlur("blur8", 8);
const page = svg.append("g").attr("filter", "url(#soft)");

const FRAME = "#4a4a4a", FS = 39.5, TICK_FS = 38;

function label(g, x, y, parts, opts = {}) {
  const fs = opts.size || FS;
  const t = g.append("text").attr("transform", `translate(${x},${y}) rotate(${opts.rotate || 0})`)
    .attr("font-size", fs)
    .attr("font-weight", opts.bold ? "bold" : null)
    .attr("text-anchor", opts.anchor || "middle");
  let shift = 0;
  parts.forEach(p => {
    const kind = p[1] || 0;
    const target = kind === 1 ? 0.22 : kind === -1 ? -0.42 : 0;
    t.append("tspan").text(p[0]).attr("font-size", fs * (kind ? 0.62 : 1))
      .attr("dy", ((target - shift) * fs).toFixed(1));
    shift = target;
  });
  return t;
}

function box(g, x, y, major, minor, isLog) {
  const [x0, x1] = x.range(), [y1, y0] = y.range();
  const sides = [
    [d3.axisBottom(x), `translate(0,${y1})`, true], [d3.axisTop(x), `translate(0,${y0})`, true],
    [d3.axisLeft(y), `translate(${x0},0)`, false], [d3.axisRight(y), `translate(${x1},0)`, false]
  ];
  sides.forEach(([ax, tr, horizontal]) => {
    const m = horizontal ? major.x : major.y;
    const axG = g.append("g").attr("transform", tr)
      .call(ax.tickValues(m).tickSize(-7).tickFormat(""));
    axG.select(".domain").attr("stroke", FRAME).attr("stroke-width", 2.6);
    axG.selectAll(".tick line").attr("stroke", FRAME).attr("stroke-width", 1.6);
    if (isLog) {
      const mg = g.append("g").attr("transform", tr)
        .call(ax.tickValues(minor).tickSize(-3.5).tickFormat(""));
      mg.select(".domain").remove();
      mg.selectAll(".tick line").attr("stroke", FRAME).attr("stroke-width", 1.2);
    }
  });
}

function scatterPanel(p) {
  const g = page.append("g");
  const x = d3.scaleLog().domain([1e-2, 1e2]).range([p.x0, p.x1]);
  const y = d3.scaleLog().domain([1e-2, 1e2]).range([p.y1, p.y0]);
  const pos = d => [x(10 ** d[0]), y(10 ** d[1])];
  const line = d3.line().x(d => pos(d)[0]).y(d => pos(d)[1]).curve(d3.curveCatmullRomClosed);
  g.append("path").attr("d", line(p.halo)).attr("fill", "#000").attr("fill-opacity", 0.4).attr("filter", "url(#blur5)");
  g.append("path").attr("d", line(p.body)).attr("fill", "#000").attr("fill-opacity", 0.6).attr("filter", "url(#blur3)");
  g.append("path").attr("d", line(p.core)).attr("fill", "#000").attr("filter", "url(#blur2)");
  g.append("g").selectAll("circle").data(p.points).enter().append("circle")
    .attr("cx", d => pos(d)[0]).attr("cy", d => pos(d)[1]).attr("r", 2.1).attr("fill", "#0d0d0d");
  const majors = decades.map(d => 10 ** d);
  const minors = x.ticks().filter(v => !majors.some(m => Math.abs(m - v) < m * 1e-6));
  box(g, x, y, {x: majors, y: majors}, minors, true);
  decades.forEach((d, i) => {
    label(g, x(10 ** d) + p.tickDx[i], p.tickY, [["10"], [String(d), -1]], {size: TICK_FS});
    label(g, p.yLabelX, y(10 ** d) + [6, 21, 20, 19, 23][i], [["10"], [String(d), -1]], {anchor: "end", size: TICK_FS});
  });
  label(g, p.titleX, 77, [[p.title]], {size: TICK_FS});
  label(g, p.xLabel[0], 780, p.xLabel[1]);
  label(g, p.yLabel[0], p.yLabel[1], p.yLabel[2], {rotate: -90});
  label(g, p.letter[0], p.letter[1], [[p.letter[2]]], {bold: true, size: 52, anchor: "start"});
}

function histPanel(p) {
  const g = page.append("g");
  const x = d3.scaleLinear().domain([-6, 6]).range([p.x0, p.x1]);
  const y = d3.scaleLinear().domain([0, p.yMax]).range([p.y1, p.y0]);
  g.append("g").selectAll("rect").data(p.counts).enter().append("rect")
    .attr("x", (d, i) => x(-6.05 + i * 0.1))
    .attr("width", x(0.1) - x(0) + 1)
    .attr("y", d => y(d)).attr("height", d => y(0) - y(d))
    .attr("fill", "#000");
  box(g, x, y, {x: histTicksX, y: p.ticks}, [], false);
  histTicksX.forEach((v, i) => label(g, x(v) + p.tickDx[i], p.tickY, [[String(v)]], {size: TICK_FS}));
  p.ticks.forEach((v, i) => label(g, p.yLabelX, y(v) + (i === 0 ? 7 : i === p.ticks.length - 1 ? 17 : 12), [[String(v)]], {anchor: "end", size: TICK_FS}));
  label(g, p.titleX, p.titleY, [[p.title]], {size: TICK_FS});
  label(g, p.xLabelX, 1583, [["Log"], ["2", 1], [" (fold-change)"]]);
  label(g, p.numberX, 1194, [["Number"]], {rotate: -90});
  label(g, p.letter[0], 870, [[p.letter[1]]], {bold: true, size: 52, anchor: "start"});
}

scatterPanel({
  x0: 172, x1: 854, y0: 97, y1: 695, points: aPoints, core: aCore, body: aBody, halo: aHalo,
  tickY: 735, tickDx: [14, 0, -1, -2, -5], yLabelX: 166, title: "H1299", titleX: 500,
  xLabel: [485, [["Vector [log"], ["2", 1], [" (C/N) RPKM]"]]],
  yLabel: [86, 403, [["OE-FLII [log"], ["2", 1], [" (C/N) RPKM]"]]],
  letter: [11, 50, "A"]
});
scatterPanel({
  x0: 1087, x1: 1766, y0: 96, y1: 695, points: bPoints, core: bCore, body: bBody, halo: bHalo,
  tickY: 735, tickDx: [29, 2, 3, 3, -7], yLabelX: 1081, title: "HBE", titleX: 1459,
  xLabel: [1435, [["NC [log"], ["2", 1], [" (C/N) RPKM]"]]],
  yLabel: [985, 351, [["KD-FLII [log"], ["2", 1], [" (C/N) RPKM]"]]],
  letter: [904, 50, "B"]
});
histPanel({
  x0: 174, x1: 852, y0: 908, y1: 1504, yMax: 1400, counts: histC, ticks: histTicksC,
  tickY: 1537, tickDx: [16, -5, -23, -8, -2, 0, -5], yLabelX: 168,
  title: "H1299", titleX: 508, titleY: 899, xLabelX: 514, numberX: 75, letter: [11, "C"]
});
histPanel({
  x0: 1090, x1: 1769, y0: 908, y1: 1502, yMax: 2000, counts: histD, ticks: histTicksD,
  tickY: 1538, tickDx: [10, -8, -7, 5, -3, -1, -7], yLabelX: 1081,
  title: "HBE", titleX: 1456, titleY: 896, xLabelX: 1431, numberX: 971, letter: [903, "D"]
});

// panel E
{
  const g = page.append("g");
  const x = d3.scaleLinear().domain([-1.5, 1.5]).range([176, 850]);
  const y = d3.scaleLinear().domain([-1.5, 1.5]).range([2305, 1717]);
  const smooth = d3.line().x(d => x(d[0])).y(d => y(d[1])).curve(d3.curveCatmullRomClosed);
  g.append("path").attr("d", smooth(eLight)).attr("fill", "#bcbcbc").attr("filter", "url(#blur8)");
  g.append("g").selectAll("circle").data(eGray).enter().append("circle")
    .attr("cx", d => x(d[0])).attr("cy", d => y(d[1])).attr("r", 1.7).attr("fill", "#9c9c9c");
  g.append("path").attr("d", smooth(eMid)).attr("fill", "#5e5e5e").attr("filter", "url(#blur5)");
  g.append("path").attr("d", smooth(eCore)).attr("fill", "#353535").attr("filter", "url(#blur2)");
  g.append("path").attr("d", smooth(eWedge)).attr("fill", "#111").attr("filter", "url(#blur2)");
  g.append("g").selectAll("circle").data(eBlack).enter().append("circle")
    .attr("cx", d => x(d[0])).attr("cy", d => y(d[1])).attr("r", 2.7).attr("fill", "#151515");
  g.append("line").attr("x1", x(-1.5)).attr("x2", x(1.5)).attr("y1", y(0)).attr("y2", y(0))
    .attr("stroke", "#555").attr("stroke-width", 2.4);
  g.append("line").attr("x1", x(0)).attr("x2", x(0)).attr("y1", y(-1.5)).attr("y2", y(1.5))
    .attr("stroke", "#555").attr("stroke-width", 2.4);
  box(g, x, y, {x: trafficTicks, y: trafficTicks}, [], false);
  const dxE = [12, -3, -1, 0, 1, 0, -9];
  const dyE = [-3, 10, 11, 11, 12, 11, 21];
  trafficTicks.forEach((v, i) => {
    label(g, x(v) + dxE[i], 2337, [[String(v)]], {size: TICK_FS});
    label(g, 168, y(v) + dyE[i], [[String(v)]], {anchor: "end", size: TICK_FS});
  });
  label(g, 524, 1700, [["Traffic change(HBE/H1299)"]]);
  label(g, 528, 2387, [["KD-FLII (log"], ["10", 1], [" fold-change)"]]);
  label(g, 78, 2004, [["OE-FLII (log"], ["10", 1], [" fold-change)"]], {rotate: -90});
  label(g, 15, 1672, [["E"]], {bold: true, size: 52, anchor: "start"});
}
</script>
</body>
</html>
